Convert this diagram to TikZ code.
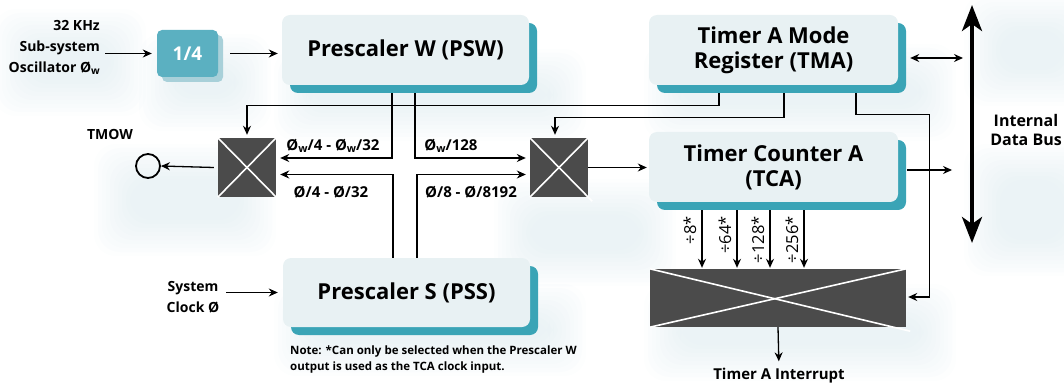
\documentclass[tikz,border=0pt]{standalone}
\usepackage{fontspec}
\setmainfont{Open Sans}
\usetikzlibrary{arrows.meta,calc,shadows}
\definecolor{boxfill}{HTML}{E8F1F3}
\definecolor{boxedge}{HTML}{3AA4B6}
\definecolor{divfill}{HTML}{5BB0C1}
\definecolor{divshade}{HTML}{A8D0D9}
\definecolor{muxfill}{HTML}{4B4B4B}
\definecolor{hazecol}{HTML}{B4D1DC}
% lowered small w used in the oscillator clock name
\newcommand{\sw}{\raisebox{-0.25ex}{\scalebox{0.72}{w}}}
% soft glow: stacked translucent rounded rectangles
\newcommand{\haze}[4]{%
  \foreach \k in {0,...,9}{%
    \fill[hazecol, fill opacity=0.03, rounded corners=22pt]
      (#1-\k*4, #2-\k*4) rectangle (#3+\k*4, #4+\k*4);}}

\begin{document}
\begin{tikzpicture}[x=1pt,y=-1pt,
  wire/.style={line width=1.3pt, black},
  arr/.style={wire, -{Stealth[length=9pt,width=8pt]}},
  arrboth/.style={wire, {Stealth[length=9pt,width=8pt]}-{Stealth[length=9pt,width=8pt]}},
  tbox/.style={rectangle, rounded corners=8pt, fill=boxfill, minimum width=247pt,
    minimum height=70pt, align=center, inner sep=0pt,
    font=\fontsize{22}{25}\selectfont\bfseries,
    copy shadow={shadow xshift=8pt, shadow yshift=-8pt, fill=boxedge, draw=none}},
  divbox/.style={rectangle, rounded corners=5pt, fill=divfill, minimum width=61pt,
    minimum height=47pt, text=white, font=\fontsize{19}{22}\selectfont\bfseries,
    copy shadow={shadow xshift=5pt, shadow yshift=-5pt, fill=divshade, draw=none}},
  mux/.style={rectangle, fill=muxfill, inner sep=0pt},
  xline/.style={white, line width=1.6pt},
  lbl/.style={font=\fontsize{14}{21}\selectfont\bfseries, inner sep=0pt},
  flbl/.style={font=\fontsize{15}{18}\selectfont\bfseries, inner sep=0pt},
  divlbl/.style={font=\fontsize{16.5}{19}\selectfont, inner sep=0pt, rotate=90, anchor=east},
  notetext/.style={font=\fontsize{11.5}{16}\selectfont\bfseries, inner sep=0pt, align=left,
    anchor=north west}
]
\useasboundingbox (0,0) rectangle (1064,387);

% background glow
\haze{30}{45}{110}{80}
\haze{175}{70}{235}{95}
\haze{310}{85}{550}{105}
\haze{680}{80}{920}{105}
\haze{1000}{30}{1064}{70}
\haze{1000}{180}{1064}{240}
\haze{530}{215}{640}{250}
\haze{310}{320}{550}{340}
\haze{680}{320}{920}{345}
\haze{130}{180}{240}{220}

% blocks
\node[divbox] (div) at (187.5,53.5) {1/4};
\node[tbox] (psw) at (405.5,50) {Prescaler W (PSW)};
\node[tbox, minimum width=249pt] (tma) at (773.5,50) {Timer A Mode\\Register (TMA)};
\node[tbox, minimum width=249pt] (tca) at (773.5,167) {Timer Counter A\\(TCA)};
\node[tbox, minimum height=69pt] (pss) at (406.5,292.5) {Prescaler S (PSS)};

% selectors
\node[mux, minimum width=58pt, minimum height=59pt] (muxL) at (247,167.5) {};
\node[mux, minimum width=58pt, minimum height=59pt] (muxR) at (559,167.5) {};
\node[mux, minimum width=256pt, minimum height=58pt] (muxB) at (778,298) {};
\foreach \m in {muxL,muxR,muxB}{
  \draw[xline] (\m.north west) -- ([shift={(4,4)}]\m.south east);
  \draw[xline] (\m.north east) -- (\m.south west);
}

% external signals and labels
\node[lbl, align=right, anchor=east] (osc) at (100,47) {32 KHz\\Sub-system\\Oscillator Ø\sw};
\node[lbl, align=center] (sysclk) at (193,297) {System\\Clock Ø};
\node[draw, line width=1.8pt, circle, minimum size=24pt, inner sep=0pt] (tmow) at (148,166) {};
\node[lbl] (tmowlbl) at (110,134) {TMOW};
\coordinate (bus) at (972,124);
\coordinate (busT) at (972,5);
\coordinate (busB) at (972,243);
\node[font=\fontsize{16}{19}\selectfont\bfseries, inner sep=0pt, align=center] (buslbl) at (1026,130) {Internal\\Data Bus};
\node[flbl] (irq) at (779,376) {Timer A Interrupt};
\node[notetext] (note) at (290,346) {Note: *Can only be selected when the Prescaler W\\output is used as the TCA clock input.};

% clock inputs
\draw[arr] ($(osc.east |- div.west)+(5,0)$) -- ([xshift=-5pt]div.west);
\draw[arr] ([xshift=12pt]div.east) -- ([xshift=-4pt]psw.west |- div.east);
\draw[arr] ([xshift=7pt]sysclk.east |- pss.west) -- ([xshift=-5pt]pss.west);

% prescaler outputs to selectors
\draw[arr] ([xshift=-13.5pt,yshift=-8pt]psw.south) |- ($(muxL.east)+(4,-9.5)$);
\draw[arr] ([xshift=9.5pt,yshift=-8pt]psw.south) |- ($(muxR.west)+(-4,-9.5)$);
\draw[arr] ([xshift=-13.5pt]pss.north) |- ($(muxL.east)+(4,7)$);
\draw[arr] ([xshift=10.5pt]pss.north) |- ($(muxR.west)+(-4,7)$);
\node[flbl] (l1) at (333,146) {Ø\sw/4 - Ø\sw/32};
\node[flbl] (l2) at (451,146) {Ø\sw/128};
\node[flbl] (l3) at (331,192) {Ø/4 - Ø/32};
\node[flbl] (l4) at (471,192) {Ø/8 - Ø/8192};

% mode register controls
\draw[arr] ([xshift=-54.5pt,yshift=-8pt]tma.south) -- ++(0,12) -| ([yshift=3pt]muxL.north);
\draw[arr] ([xshift=10.5pt,yshift=-8pt]tma.south) -- ++(0,24) -| ([xshift=-4pt,yshift=3pt]muxR.north);
\draw[arr] ([xshift=82.5pt,yshift=-8pt]tma.south) -- ++(0,21) -| ($(muxB.east)+(23,-1)$) -- ($(muxB.east)+(2,-1)$);

% selector outputs
\draw[arr] ([xshift=-4pt]muxL.west) -- (tmow.east);
\draw[arr] (muxR.east) -- ([xshift=-2pt]tca.west |- muxR.east);
\draw[arr, shorten >=7pt] (muxB.south) -- (irq.north);

% counter taps
\foreach \dx/\t in {-71.5/8, -36.5/64, -3.5/128, 30.5/256}{
  \draw[arr] ([xshift=\dx pt,yshift=-8pt]tca.south) -- ([xshift=\dx pt,yshift=1pt]tca.south |- muxB.north);
  \node[divlbl] at ($(tca.south)+(\dx-12,14)$) {÷\t*};
}

% bus connections
\draw[arrboth] ($(tma.east)+(12,8)$) -- ($(tma.east -| bus)+(-9,8)$);
\draw[arr] ($(tca.east)+(9,3)$) -- ($(tca.east -| bus)+(-20,3)$);
\draw[line width=4pt, {Stealth[length=26pt,width=20pt,inset=7pt]}-{Stealth[length=26pt,width=20pt,inset=7pt]}] (busT) -- (busB);
\end{tikzpicture}
\end{document}
